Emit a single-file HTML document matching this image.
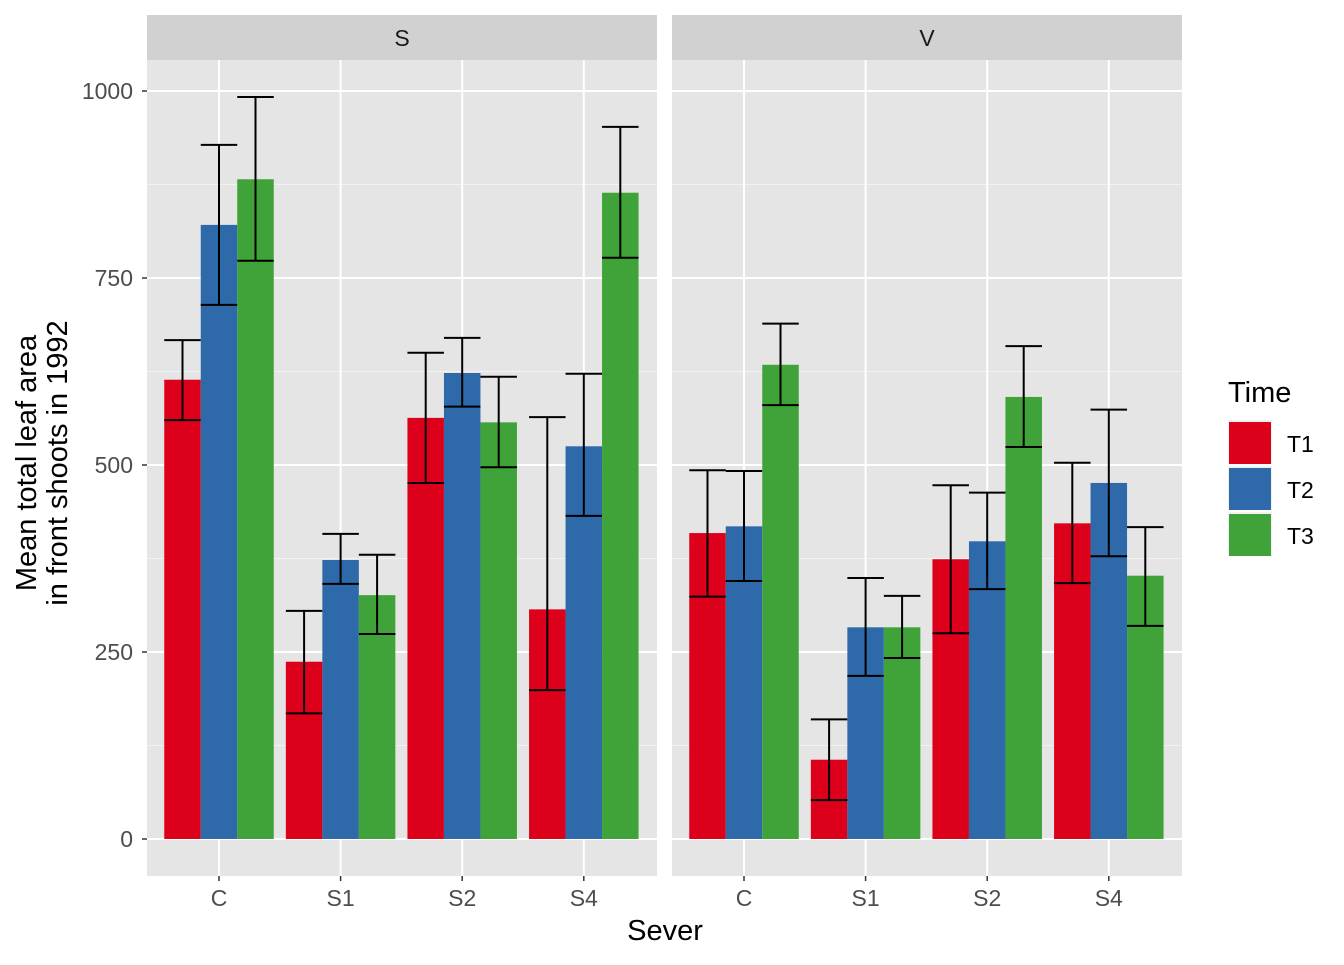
<!DOCTYPE html>
<html><head><meta charset="utf-8"><style>
body{margin:0;background:#fff;font-family:"Liberation Sans",Arial,sans-serif}
</style></head><body>
<svg id="chart" width="1344" height="960" xmlns="http://www.w3.org/2000/svg" font-family="Liberation Sans, Arial, sans-serif">
</svg>
<script>
const panels=["S","V"];
const categories=["C","S1","S2","S4"];
const series=["T1","T2","T3"];
const colors=["#dc001a","#2e69aa","#40a33a"];
const meansS=[[614,821,882],[237,373,326],[563,623,557],[307,525,864]];
const upperS=[[667,928,992],[305,408,380],[650,670,618],[564,622,952]];
const lowerS=[[560,714,773],[168,341,274],[476,578,497],[199,432,777]];
const meansV=[[409,418,634],[106,283,283],[374,398,591],[422,476,352]];
const upperV=[[493,492,689],[160,349,325],[473,463,659],[503,574,417]];
const lowerV=[[324,345,580],[52,218,242],[275,334,524],[342,378,285]];
const yTicks=[0,250,500,750,1000];
const means=[meansS,meansV],upper=[upperS,upperV],lower=[lowerS,lowerV];
const svg=document.getElementById('chart');
const NS="http://www.w3.org/2000/svg";
function mk(t,a,p){const e=document.createElementNS(NS,t);for(const k in a)e.setAttribute(k,a[k]);(p||svg).appendChild(e);return e;}
const yS=v=>839-v*0.748;
const panelX=[147,672],pw=510,topY=60,botY=876,step=121.6;
const cx=(p,i)=>panelX[p]+72+i*step;
const bw=36.5;
panels.forEach((pn,p)=>{
  const g=mk('g',{});
  
  
  const bg=mk('rect',{x:panelX[p],y:topY,width:pw,height:botY-topY,fill:'#e5e5e5'},g);
  
  
  const st=mk('rect',{x:panelX[p],y:15,width:pw,height:45,fill:'#d1d1d1'},g);
  
  
  const stt=mk('text',{x:panelX[p]+pw/2,y:46,'text-anchor':'middle','font-size':'23',fill:'#1a1a1a'},g);
  stt.textContent=pn;
  
  
  for(let i=0;i<yTicks.length-1;i++){const v=(yTicks[i]+yTicks[i+1])/2;
    mk('line',{x1:panelX[p],x2:panelX[p]+pw,y1:yS(v),y2:yS(v),stroke:'#f2f2f2','stroke-width':1},g);}
  yTicks.forEach(v=>mk('line',{x1:panelX[p],x2:panelX[p]+pw,y1:yS(v),y2:yS(v),stroke:'#fff','stroke-width':2},g));
  categories.forEach((c,i)=>{
    mk('line',{x1:cx(p,i),x2:cx(p,i),y1:topY,y2:botY,stroke:'#fff','stroke-width':2},g);
    const t=mk('text',{x:cx(p,i),y:906,'text-anchor':'middle','font-size':'23',fill:'#4d4d4d'});
    t.textContent=c;
    
    
    mk('line',{x1:cx(p,i),x2:cx(p,i),y1:botY,y2:botY+5,stroke:'#333','stroke-width':1.5});
  });
  categories.forEach((c,i)=>{
    series.forEach((s,j)=>{
      const x0=cx(p,i)-bw*1.5+j*bw;
      const v=means[p][i][j];
      const r=mk('rect',{x:x0,y:yS(v),width:bw,height:yS(0)-yS(v),fill:colors[j]},g);
      
      
      const e=mk('path',{d:`M${x0} ${yS(upper[p][i][j])}H${x0+bw}M${x0+bw/2} ${yS(upper[p][i][j])}V${yS(lower[p][i][j])}M${x0} ${yS(lower[p][i][j])}H${x0+bw}`,stroke:'#000','stroke-width':2,fill:'none'},g);
      
      
    });
  });
});
yTicks.forEach(v=>{
  const t=mk('text',{x:133,y:yS(v)+8,'text-anchor':'end','font-size':'23',fill:'#4d4d4d'});
  t.textContent=v;
  
  
  mk('line',{x1:142,x2:147,y1:yS(v),y2:yS(v),stroke:'#333','stroke-width':1.5});
});
const xt=mk('text',{x:665,y:940,'text-anchor':'middle','font-size':'29',fill:'#000'});
xt.textContent='Sever';


const yt=mk('text',{transform:'translate(0,463) rotate(-90)','text-anchor':'middle','font-size':'29',fill:'#000'});


const t1=mk('tspan',{x:0,y:36},yt);t1.textContent='Mean total leaf area';
const t2=mk('tspan',{x:0,y:67},yt);t2.textContent='in front shoots in 1992';
const lt=mk('text',{x:1228,y:402,'font-size':'29',fill:'#000'});
lt.textContent='Time';


series.forEach((s,j)=>{
  const g=mk('g',{});
  
  
  mk('rect',{x:1228,y:420+j*46,width:44,height:44,fill:'#f2f2f2'},g);
  mk('rect',{x:1229,y:422+j*46,width:42,height:42,fill:colors[j]},g);
  const t=mk('text',{x:1287,y:452+j*46,'font-size':'23',fill:'#000'},g);
  t.textContent=s;
});
</script>
</body></html>
